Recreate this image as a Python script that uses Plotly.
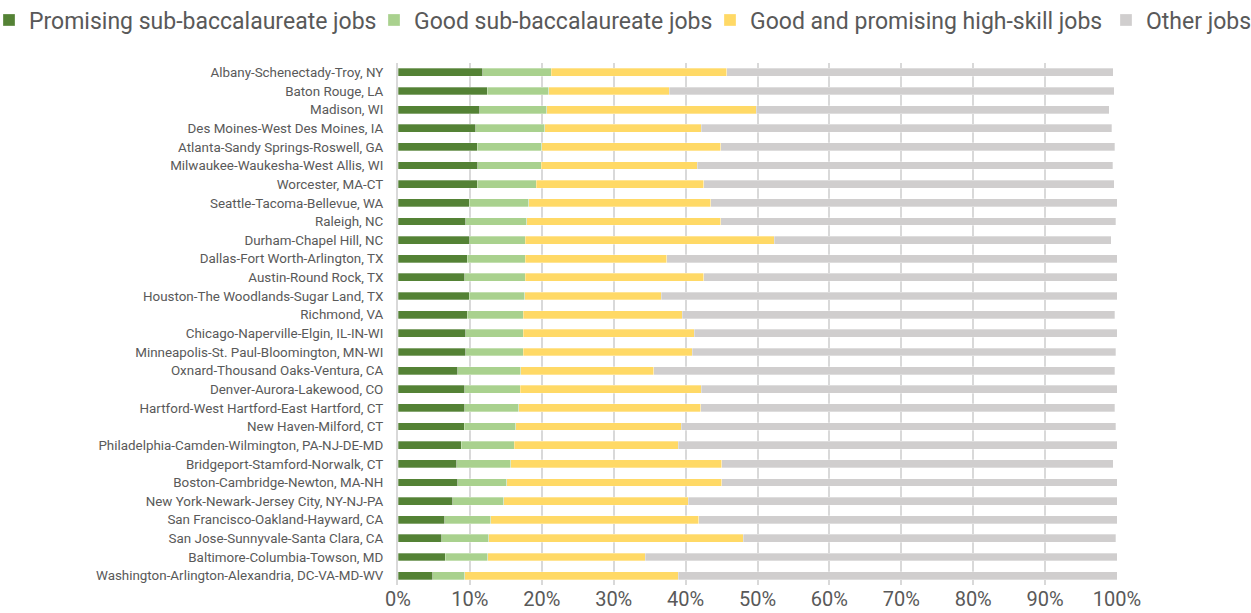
import plotly.graph_objects as go

metros = [
    "Albany-Schenectady-Troy, NY",
    "Baton Rouge, LA",
    "Madison, WI",
    "Des Moines-West Des Moines, IA",
    "Atlanta-Sandy Springs-Roswell, GA",
    "Milwaukee-Waukesha-West Allis, WI",
    "Worcester, MA-CT",
    "Seattle-Tacoma-Bellevue, WA",
    "Raleigh, NC",
    "Durham-Chapel Hill, NC",
    "Dallas-Fort Worth-Arlington, TX",
    "Austin-Round Rock, TX",
    "Houston-The Woodlands-Sugar Land, TX",
    "Richmond, VA",
    "Chicago-Naperville-Elgin, IL-IN-WI",
    "Minneapolis-St. Paul-Bloomington, MN-WI",
    "Oxnard-Thousand Oaks-Ventura, CA",
    "Denver-Aurora-Lakewood, CO",
    "Hartford-West Hartford-East Hartford, CT",
    "New Haven-Milford, CT",
    "Philadelphia-Camden-Wilmington, PA-NJ-DE-MD",
    "Bridgeport-Stamford-Norwalk, CT",
    "Boston-Cambridge-Newton, MA-NH",
    "New York-Newark-Jersey City, NY-NJ-PA",
    "San Francisco-Oakland-Hayward, CA",
    "San Jose-Sunnyvale-Santa Clara, CA",
    "Baltimore-Columbia-Towson, MD",
    "Washington-Arlington-Alexandria, DC-VA-MD-WV",
]

promising_sub = [11.8, 12.4, 11.4, 10.8, 11.0, 11.1, 11.0, 9.9, 9.4, 10.0, 9.6, 9.3, 9.9, 9.6,
                 9.4, 9.4, 8.3, 9.3, 9.3, 9.2, 8.8, 8.2, 8.3, 7.6, 6.5, 6.1, 6.6, 4.8]
good_sub = [9.5, 8.6, 9.3, 9.6, 9.0, 8.8, 8.2, 8.3, 8.5, 7.7, 8.1, 8.4, 7.7, 7.8,
            8.0, 8.0, 8.8, 7.7, 7.5, 7.2, 7.4, 7.5, 6.8, 7.1, 6.4, 6.5, 5.9, 4.5]
high_skill = [24.4, 16.7, 29.1, 21.8, 24.9, 21.7, 23.3, 25.3, 27.0, 34.6, 19.7, 24.8, 19.0, 22.1,
              23.8, 23.5, 18.5, 25.2, 25.3, 23.0, 22.8, 29.3, 29.9, 25.7, 28.9, 35.4, 21.9, 29.7]
other = [53.8, 61.9, 49.1, 57.1, 54.8, 57.8, 57.1, 56.5, 54.9, 46.9, 62.6, 57.5, 63.4, 60.2,
         58.8, 58.9, 64.1, 57.8, 57.6, 60.4, 61.0, 54.5, 55.0, 59.6, 58.2, 51.8, 65.6, 61.0]

series_names = ["Promising sub-baccalaureate jobs", "Good sub-baccalaureate jobs",
                "Good and promising high-skill jobs", "Other jobs"]
series_values = [promising_sub, good_sub, high_skill, other]
colors = ["#548235", "#A9D18E", "#FFD966", "#D0CECE"]

tick_vals = [0, 10, 20, 30, 40, 50, 60, 70, 80, 90, 100]
tick_text = [f"{v}%" for v in tick_vals]

W, H = 1251, 613
legend_ids = ["legend", "legend2", "legend3", "legend4"]

fig = go.Figure()
for name, vals, col, lid in zip(series_names, series_values, colors, legend_ids):
    fig.add_trace(go.Bar(
        y=metros, x=vals, name=name, orientation="h",
        marker=dict(color=col, line=dict(color="rgba(255,255,255,0.6)", width=0.5)),
        width=0.42, legend=lid, showlegend=True,
    ))

legend_base = dict(
    orientation="h", xref="container", yref="container",
    y=1 - 20 / H, yanchor="middle",
    font=dict(size=23, color="#595959"),
    itemwidth=30, bgcolor="rgba(0,0,0,0)",
)
legends = {
    "legend": dict(legend_base, x=382 / W, xanchor="right"),
    "legend2": dict(legend_base, x=(414 - 40) / W, xanchor="left"),
    "legend3": dict(legend_base, x=(750 - 40) / W, xanchor="left"),
    "legend4": dict(legend_base, x=(1146 - 40) / W, xanchor="left"),
}

fig.update_layout(
    barmode="stack",
    showlegend=True,
    width=W, height=H,
    margin=dict(l=398, r=134, t=63, b=28, autoexpand=False),
    paper_bgcolor="white", plot_bgcolor="white",
    font=dict(family="Roboto", color="#595959"),
    xaxis=dict(
        range=[0, 100], tickvals=tick_vals, ticktext=tick_text,
        showgrid=True, gridcolor="#D9D9D9", gridwidth=2,
        zeroline=False, showline=False,
        tickfont=dict(size=20, color="#595959"),
        ticks="", ticklabelstandoff=0,
    ),
    yaxis=dict(
        categoryorder="array", categoryarray=metros, autorange="reversed",
        tickfont=dict(size=13.4, color="#595959"),
        showline=True, linecolor="#D9D9D9", linewidth=2,
        ticks="", ticklabelstandoff=10,
    ),
    bargap=0.55,
    **legends,
)

fig.write_html(
    "out.html",
    config={"displayModeBar": False},
    post_script="document.body.style.margin='0px';document.body.style.overflow='hidden';",
)
